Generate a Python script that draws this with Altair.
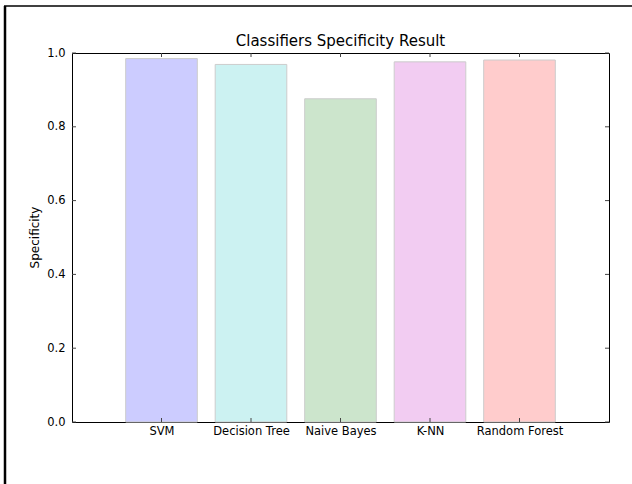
import json
import altair as alt
import pandas as pd

# Classifier specificity scores
classifiers = ["SVM", "Decision Tree", "Naive Bayes", "K-NN", "Random Forest"]
specificity = [0.985, 0.969, 0.876, 0.976, 0.981]
bar_colors = ["#ccccff", "#ccf2f2", "#cce5cc", "#f2ccf2", "#ffcccc"]
positions = [1, 2, 3, 4, 5]
y_ticks = [0.0, 0.2, 0.4, 0.6, 0.8, 1.0]

W, H = 537, 369
FONT = "DejaVu Sans"

df = pd.DataFrame({
    "name": classifiers,
    "pos": positions,
    "value": specificity,
    "color": bar_colors,
})
yt = pd.DataFrame({"v": y_ticks})

xscale = alt.Scale(domain=[0, 6], nice=False, zero=False)
yscale = alt.Scale(domain=[0, 1], nice=False)

label_expr = json.dumps(classifiers) + "[datum.value - 1]"

bars = (
    alt.Chart(df)
    .transform_calculate(x0="datum.pos - 0.4", x1="datum.pos + 0.4")
    .mark_rect(stroke="#cccccc", strokeWidth=1)
    .encode(
        x=alt.X("x0:Q", scale=xscale,
                axis=alt.Axis(values=positions, labelExpr=label_expr, title=None,
                              ticks=False, domain=False, grid=False,
                              labelFont=FONT, labelFontSize=11.5, labelColor="#000",
                              labelPadding=3, labelFlush=False)),
        x2="x1:Q",
        y=alt.Y("value:Q", scale=yscale,
                axis=alt.Axis(values=y_ticks, format=".1f", title=None,
                              ticks=False, domain=False, grid=False,
                              labelFont=FONT, labelFontSize=11.5, labelColor="#000",
                              labelPadding=7, labelFlush=False)),
        y2=alt.Y2(datum=0),
        fill=alt.Fill("color:N", scale=None),
    )
)

# inward ticks on all four sides
xt_bottom = alt.Chart(df).mark_rule(color="#444", strokeWidth=1).encode(
    x=alt.X("pos:Q", scale=xscale), y=alt.value(H), y2=alt.value(H - 4))
xt_top = alt.Chart(df).mark_rule(color="#444", strokeWidth=1).encode(
    x=alt.X("pos:Q", scale=xscale), y=alt.value(0), y2=alt.value(4))
yt_left = alt.Chart(yt).mark_rule(color="#444", strokeWidth=1).encode(
    y=alt.Y("v:Q", scale=yscale), x=alt.value(0), x2=alt.value(4))
yt_right = alt.Chart(yt).mark_rule(color="#444", strokeWidth=1).encode(
    y=alt.Y("v:Q", scale=yscale), x=alt.value(W), x2=alt.value(W - 4))

one = alt.Data(values=[{}])

title = alt.Chart(one).mark_text(
    font=FONT, fontSize=15, color="#000", align="center", baseline="alphabetic"
).encode(x=alt.value(W / 2), y=alt.value(-7), text=alt.value("Classifiers Specificity Result"))

ytitle = alt.Chart(one).mark_text(
    font=FONT, fontSize=12, color="#000", align="center", baseline="alphabetic", angle=270
).encode(x=alt.value(-33), y=alt.value(H / 2), text=alt.value("Specificity"))

# outer frame lines (top and left)
frame_top = alt.Chart(one).mark_rule(color="#000", strokeWidth=1.5).encode(
    x=alt.value(-68), x2=alt.value(560), y=alt.value(-47))
frame_left = alt.Chart(one).mark_rule(color="#000", strokeWidth=2.5).encode(
    x=alt.value(-67), y=alt.value(-47), y2=alt.value(431))

chart = (
    alt.layer(bars, xt_bottom, xt_top, yt_left, yt_right, title, ytitle, frame_top, frame_left)
    .properties(
        width=W, height=H,
        autosize=alt.AutoSizeParams(type="none"),
        padding={"left": 72, "top": 53, "right": 23, "bottom": 62},
        background="white",
    )
    .configure_view(stroke="#000", strokeWidth=1)
)

chart.save("out.html", embed_options={"renderer": "svg", "actions": False})
